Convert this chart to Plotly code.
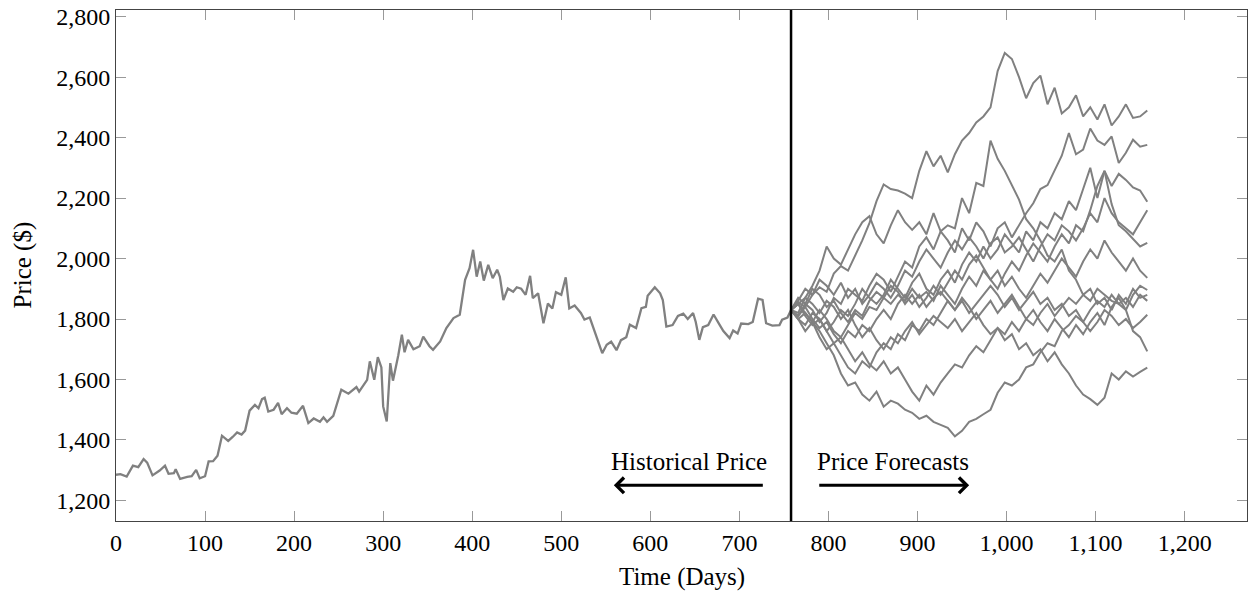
import plotly.graph_objects as go

# ---------------- data ----------------
SPLIT_DAY = 758

HIST_DAYS = [0, 5, 12, 19, 25, 31, 35, 41, 49, 55, 59, 65, 67, 72, 80, 85, 90, 94, 100, 104,
             109, 114, 119, 126, 131, 136, 141, 145, 150, 156, 160, 164, 167, 171, 177, 182, 186,
             192, 197, 203, 210, 216, 222, 229, 233, 237, 244, 248, 253, 261, 270, 273, 278, 282,
             285, 290, 294, 298, 300, 304, 308, 311, 317, 321, 324, 328, 334, 341, 345, 352, 356,
             364, 371, 379, 386, 392, 397, 401, 405, 409, 413, 418, 423, 428, 431, 435, 440, 446,
             450, 455, 460, 465, 468, 474, 480, 485, 490, 494, 500, 505, 509, 515, 522, 526, 532,
             536, 541, 546, 551, 556, 562, 567, 573, 577, 584, 590, 595, 597, 605, 611, 614, 618,
             625, 631, 637, 642, 648, 651, 655, 659, 665, 671, 678, 682, 689, 693, 698, 702, 710,
             715, 721, 726, 730, 737, 745, 748, 754, 758]
HIST_PRICE = [1285, 1287, 1279, 1315, 1310, 1337, 1325, 1283, 1299, 1315, 1288, 1290, 1303, 1271,
              1278, 1280, 1301, 1273, 1280, 1329, 1330, 1348, 1414, 1397, 1410, 1425, 1418, 1431,
              1497, 1516, 1505, 1535, 1540, 1494, 1500, 1523, 1485, 1505, 1490, 1487, 1513, 1456,
              1471, 1460, 1475, 1460, 1480, 1516, 1566, 1553, 1575, 1560, 1580, 1599, 1660, 1599,
              1674, 1640, 1511, 1461, 1654, 1596, 1680, 1748, 1690, 1731, 1700, 1710, 1742, 1710,
              1698, 1726, 1770, 1803, 1814, 1930, 1968, 2029, 1940, 1990, 1927, 1979, 1935, 1963,
              1940, 1863, 1901, 1890, 1905, 1900, 1880, 1943, 1869, 1885, 1786, 1851, 1835, 1889,
              1880, 1938, 1835, 1845, 1820, 1798, 1805, 1770, 1731, 1687, 1715, 1725, 1697, 1730,
              1740, 1781, 1770, 1836, 1840, 1877, 1905, 1885, 1863, 1775, 1780, 1810, 1818, 1800,
              1820, 1790, 1731, 1773, 1780, 1815, 1780, 1760, 1737, 1762, 1752, 1785, 1783, 1790,
              1867, 1863, 1786, 1778, 1780, 1798, 1805, 1830]

FORECAST_DAYS = list(range(758, 1159, 8))  # 51 days

F1 = [1830, 1855, 1840, 1880, 1905, 1890, 1950, 1975, 1960, 2010,
      2060, 2117, 2190, 2245, 2230, 2225, 2215, 2200, 2290, 2355,
      2305, 2340, 2285, 2345, 2390, 2415, 2450, 2470, 2500, 2620,
      2680, 2660, 2600, 2530, 2580, 2605, 2510, 2565, 2480, 2500,
      2540, 2470, 2500, 2460, 2510, 2440, 2470, 2510, 2465, 2470,
      2490]
F2 = [1830, 1850, 1870, 1910, 1960, 2040, 2000, 1980, 2030, 2080,
      2120, 2140, 2080, 2050, 2110, 2160, 2120, 2095, 2120, 2080,
      2150, 2090, 2110, 2100, 2200, 2150, 2250, 2240, 2390, 2330,
      2290, 2240, 2195, 2130, 2100, 2060, 2010, 1990, 2030, 1960,
      1930, 1880, 1900, 1850, 1870, 1830, 1880, 1850, 1900, 1870,
      1880]
F3 = [1830, 1810, 1850, 1830, 1790, 1820, 1870, 1850, 1900, 1880,
      1860, 1910, 1950, 1930, 1890, 1940, 1990, 1970, 2040, 2070,
      2030, 2090, 2060, 2020, 2100, 2060, 2120, 2090, 2040, 2100,
      2120, 2070, 2110, 2150, 2183, 2230, 2243, 2290, 2340, 2415,
      2345, 2360, 2430, 2390, 2376, 2404, 2316, 2350, 2393, 2370,
      2376]
F4 = [1830, 1800, 1780, 1820, 1800, 1760, 1790, 1830, 1810, 1850,
      1900, 1870, 1850, 1880, 1930, 1900, 1870, 1920, 1950, 1900,
      1880, 1930, 1960, 1920, 1980, 2020, 1990, 2040, 2000, 2030,
      2080, 2050, 2020, 2090, 2060, 2120, 2100, 2150, 2130, 2190,
      2160, 2230, 2300, 2200, 2290, 2240, 2280, 2260, 2235, 2225,
      2188]
F5 = [1830, 1860, 1900, 1880, 1930, 1910, 1880, 1920, 1870, 1900,
      1850, 1880, 1920, 1900, 1870, 1910, 1960, 1940, 1990, 2030,
      2000, 1970, 2020, 2060, 2030, 2070, 2040, 2000, 2050, 2070,
      2020, 2040, 2070, 2030, 1990, 2040, 2080, 2060, 2110, 2090,
      2060, 2100, 2150, 2120, 2200, 2150, 2120, 2100, 2080, 2120,
      2160]
F6 = [1830, 1850, 1820, 1790, 1830, 1800, 1760, 1740, 1780, 1820,
      1800, 1840, 1830, 1870, 1850, 1880, 1860, 1900, 1870, 1890,
      1860, 1910, 1880, 1850, 1900, 1940, 1910, 1960, 1930, 1900,
      1950, 1990, 1960, 2010, 2050, 2020, 1990, 2040, 2080, 2050,
      2110, 2090, 2160, 2240, 2290, 2180, 2110, 2090, 2065, 2040,
      2052]
F7 = [1830, 1870, 1850, 1900, 1880, 1840, 1860, 1820, 1790, 1830,
      1810, 1860, 1890, 1870, 1910, 1890, 1850, 1880, 1840, 1870,
      1910, 1880, 1920, 1960, 1930, 1980, 2010, 1970, 1930, 1960,
      1910, 1940, 1900, 1870, 1910, 1950, 1920, 1960, 2000, 1970,
      1940, 1990, 2030, 2000, 2060, 2020, 1990, 1960, 2000, 1960,
      1936]
F8 = [1830, 1800, 1760, 1790, 1740, 1700, 1720, 1680, 1640, 1620,
      1660, 1640, 1690, 1720, 1700, 1750, 1730, 1780, 1760, 1800,
      1780, 1820, 1860, 1830, 1870, 1840, 1800, 1830, 1860, 1820,
      1850, 1880, 1840, 1800, 1830, 1790, 1760, 1800, 1770, 1740,
      1780, 1750, 1790, 1820, 1780, 1840, 1870, 1830, 1880, 1910,
      1896]
F9 = [1830, 1810, 1840, 1800, 1770, 1790, 1750, 1720, 1760, 1740,
      1780, 1760, 1800, 1830, 1800, 1850, 1880, 1850, 1880, 1840,
      1870, 1890, 1860, 1830, 1860, 1820, 1850, 1880, 1910, 1880,
      1840, 1870, 1830, 1860, 1890, 1850, 1870, 1830, 1850, 1810,
      1830, 1790, 1760, 1790, 1830, 1810, 1780, 1800, 1770, 1790,
      1814]
F10 = [1830, 1850, 1810, 1780, 1800, 1760, 1720, 1740, 1700, 1660,
       1690, 1650, 1630, 1660, 1620, 1640, 1600, 1560, 1530, 1580,
       1550, 1590, 1620, 1650, 1640, 1680, 1710, 1690, 1730, 1770,
       1750, 1790, 1760, 1800, 1780, 1820, 1850, 1810, 1840, 1870,
       1850, 1880, 1860, 1900, 1880, 1860, 1850, 1830, 1760, 1740,
       1693]
F11 = [1830, 1820, 1870, 1850, 1820, 1860, 1840, 1800, 1830, 1780,
       1740, 1770, 1730, 1700, 1740, 1720, 1760, 1790, 1750, 1780,
       1810, 1790, 1770, 1800, 1760, 1790, 1820, 1780, 1750, 1770,
       1730, 1750, 1700, 1720, 1680, 1700, 1660, 1690, 1650, 1620,
       1580, 1550, 1535, 1516, 1540, 1620, 1600, 1627, 1610, 1625,
       1639]
F12 = [1830, 1800, 1820, 1790, 1760, 1720, 1680, 1620, 1580, 1590,
       1550, 1530, 1560, 1510, 1530, 1520, 1500, 1490, 1470, 1480,
       1460, 1450, 1440, 1412, 1430, 1460, 1470, 1485, 1500, 1556,
       1590, 1580, 1600, 1640, 1650, 1690, 1720, 1710, 1760, 1780,
       1810, 1790, 1830, 1860, 1840, 1880, 1850, 1870, 1840, 1880,
       1860]
FORECASTS = [F1, F2, F3, F4, F5, F6, F7, F8, F9, F10, F11, F12]

X_TICKS = [0, 100, 200, 300, 400, 500, 600, 700, 800, 900, 1000, 1100, 1200]
Y_TICKS = [1200, 1400, 1600, 1800, 2000, 2200, 2400, 2600, 2800]

# ---------------- figure ----------------
FONT = "Liberation Serif, Times New Roman, serif"
GRAY = "#808080"

fig = go.Figure()
for f in FORECASTS:
    n = min(len(f), len(FORECAST_DAYS))
    fig.add_trace(go.Scatter(x=FORECAST_DAYS[:n], y=f[:n], mode="lines",
                             line=dict(color=GRAY, width=2), showlegend=False,
                             hoverinfo="skip"))
fig.add_trace(go.Scatter(x=HIST_DAYS, y=HIST_PRICE, mode="lines",
                         line=dict(color=GRAY, width=2.3), showlegend=False,
                         hoverinfo="skip"))

fig.add_shape(type="line", xref="x", yref="paper", x0=SPLIT_DAY, x1=SPLIT_DAY, y0=0, y1=1,
              line=dict(color="black", width=2.5), layer="above")

ARROW_Y = 1250
TEXT_Y = 1329
# arrows
fig.add_annotation(x=559, y=ARROW_Y, ax=728, ay=ARROW_Y, xref="x", yref="y", axref="x", ayref="y",
                   text="", showarrow=True, arrowhead=4, arrowsize=1, arrowwidth=3,
                   arrowcolor="black", standoff=0, startstandoff=0)
fig.add_annotation(x=958, y=ARROW_Y, ax=788, ay=ARROW_Y, xref="x", yref="y", axref="x", ayref="y",
                   text="", showarrow=True, arrowhead=4, arrowsize=1, arrowwidth=3,
                   arrowcolor="black", standoff=0, startstandoff=0)
fig.add_annotation(x=643.5, y=TEXT_Y, xref="x", yref="y", text="Historical Price", showarrow=False,
                   font=dict(family=FONT, size=25, color="black"), xanchor="center", yanchor="middle")
fig.add_annotation(x=873, y=TEXT_Y, xref="x", yref="y", text="Price Forecasts", showarrow=False,
                   font=dict(family=FONT, size=25, color="black"), xanchor="center", yanchor="middle")

# axis titles
fig.add_annotation(x=0, y=0.5, xref="paper", yref="paper", xshift=-94, text="Price ($)",
                   textangle=-90, showarrow=False, xanchor="center", yanchor="middle",
                   font=dict(family=FONT, size=25, color="black"))
fig.add_annotation(x=0.5, y=0, xref="paper", yref="paper", yshift=-56, text="Time (Days)",
                   showarrow=False, xanchor="center", yanchor="middle",
                   font=dict(family=FONT, size=25, color="black"))

axis_common = dict(showline=True, linecolor="#444444", linewidth=1, mirror="ticks",
                   ticks="inside", ticklen=10, tickwidth=1, tickcolor="#999999",
                   showgrid=False, zeroline=False, tickformat=",",
                   tickfont=dict(family=FONT, size=24, color="black"))
fig.update_xaxes(range=[0, 1270], tickvals=X_TICKS, **axis_common)
fig.update_yaxes(range=[1132, 2822], tickvals=Y_TICKS, **axis_common)

fig.update_layout(width=1248, height=592, autosize=False,
                  margin=dict(l=116, r=1, t=10, b=71),
                  plot_bgcolor="white", paper_bgcolor="white")

fig.write_html("out.html")
